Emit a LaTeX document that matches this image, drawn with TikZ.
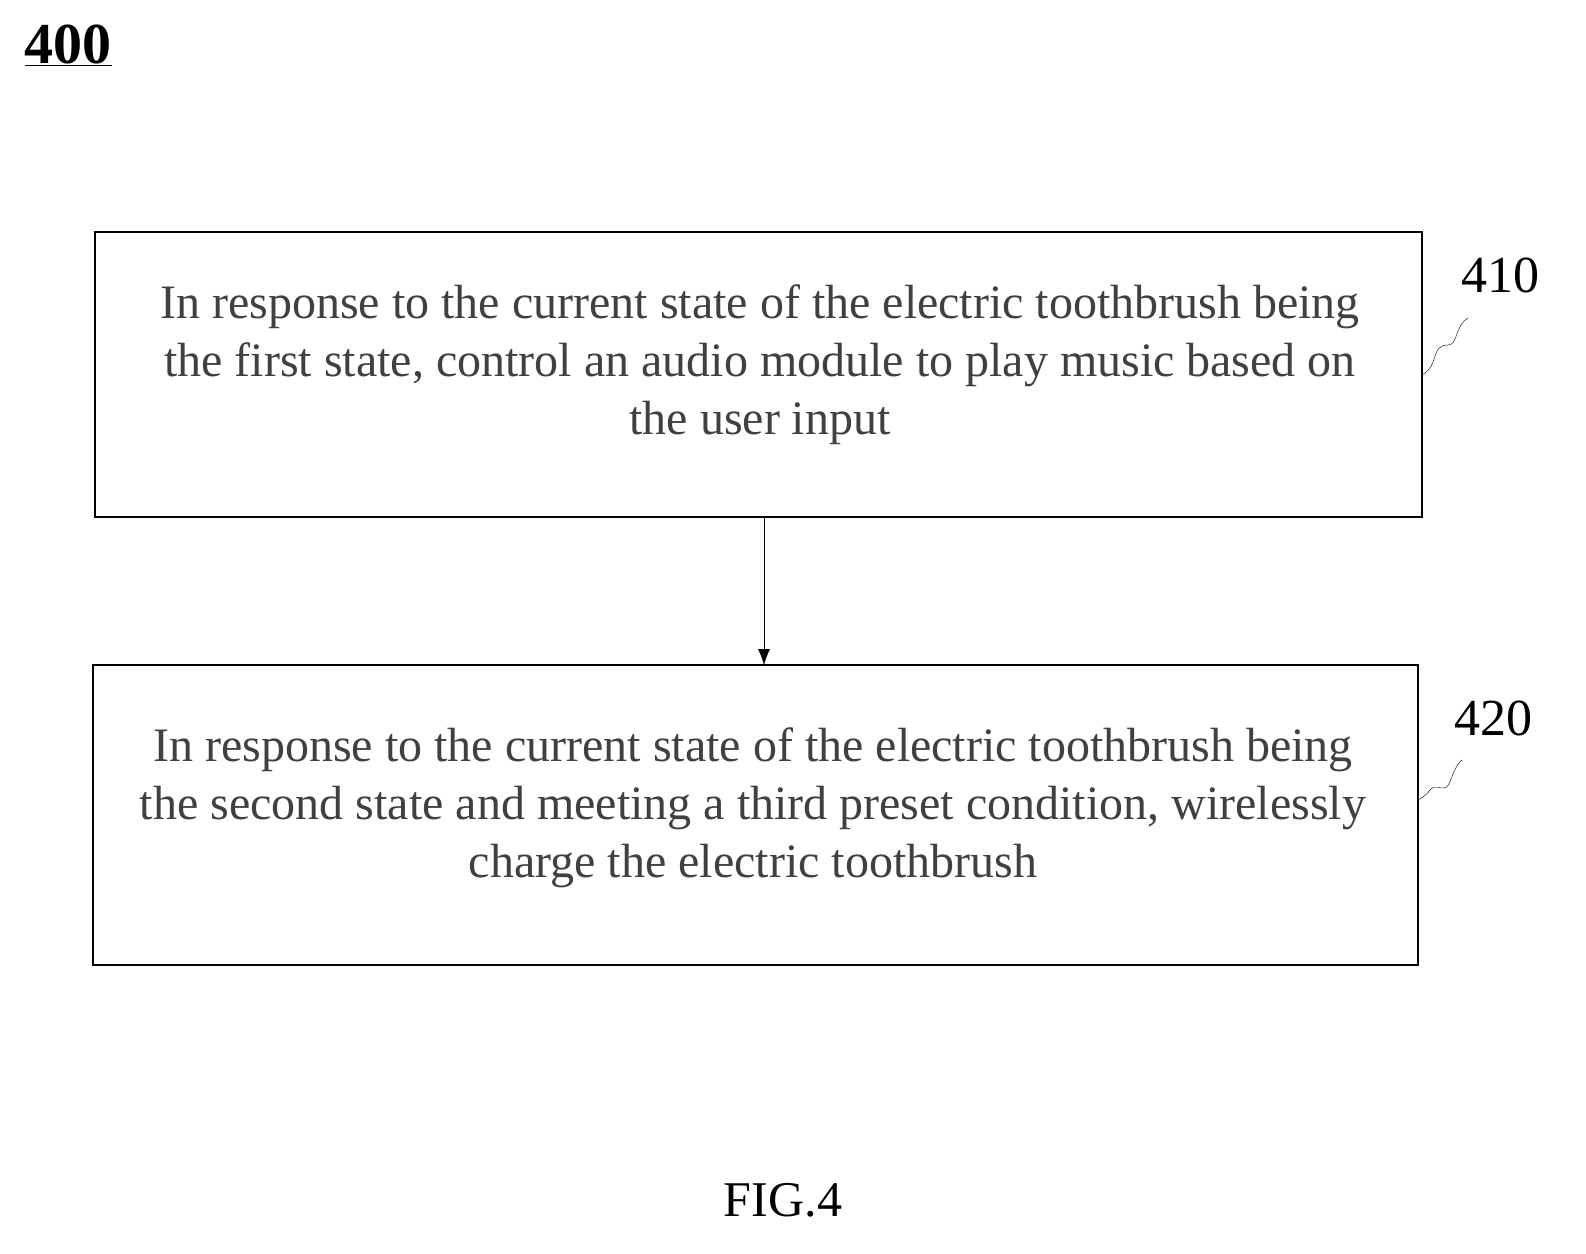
\documentclass[tikz,border=0pt]{standalone}
\usepackage{fontspec}
\setmainfont{Liberation Serif}
\usetikzlibrary{arrows.meta}
\begin{document}
\begin{tikzpicture}[x=1pt,y=-1pt,
  box/.style={draw,line width=1.5pt},
  txt/.style={align=center,font=\fontsize{48}{58}\selectfont,text=black!75},
  lbl/.style={font=\fontsize{52}{60}\selectfont}]
\fill[white] (0,0) rectangle (1586,1253);
\useasboundingbox (0,0) rectangle (1586,1253);
\draw[box] (95,232) rectangle (1422,517);
\coordinate (b1s) at (764,517);
\coordinate (b1e) at (1422,375);
\node[txt] (t1) at (760,365) {In response to the current state of the electric toothbrush being\\the first state, control an audio module to play music based on\\the user input};
\draw[box] (93,665) rectangle (1418,965);
\coordinate (b2n) at (764,665);
\coordinate (b2e) at (1418,800);
\node[txt] (t2) at (753,808) {In response to the current state of the electric toothbrush being\\the second state and meeting a third preset condition, wirelessly\\charge the electric toothbrush};
\draw[-{Latex[length=16pt,width=12pt]}] (b1s) -- (b2n);
\node[lbl] (l1) at (1500,275) {410};
\node[lbl] (l2) at (1493,718) {420};
\coordinate (s1) at (1468,318);
\coordinate (s2) at (1462,760);
\draw (b1e) .. controls (1440,365) and (1430,345) .. (1448,345) .. controls (1458,345) and (1455,325) .. (s1);
\draw (b2e) .. controls (1436,790) and (1426,785) .. (1442,788) .. controls (1452,790) and (1450,770) .. (s2);
\node[font=\fontsize{58}{66}\selectfont\bfseries] (n) at (68,45) {\underline{400}};
\node[font=\fontsize{50}{58}\selectfont] (fig) at (783,1200) {FIG.4};
\end{tikzpicture}
\end{document}
